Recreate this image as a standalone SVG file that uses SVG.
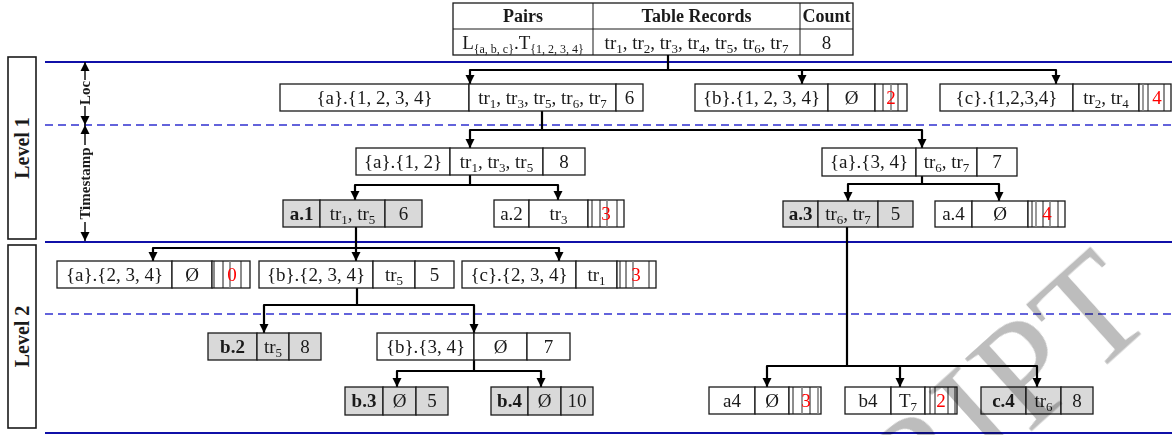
<svg xmlns="http://www.w3.org/2000/svg" width="1172" height="435" viewBox="0 0 1172 435">
  <defs>
    <marker id="arr" viewBox="0 0 10 10" refX="10" refY="5" markerWidth="9" markerHeight="10" markerUnits="userSpaceOnUse" orient="auto">
      <path d="M0,0 L10,5 L0,10 z" fill="#000"/>
    </marker>
    <style>
      text { font-family: "Liberation Serif", "Times New Roman", serif; fill: #1a1a1a; }
      .t { font-size: 19px; text-anchor: middle; }
      .h { font-size: 18px; font-weight: bold; text-anchor: middle; }
      .b { font-weight: bold; }
      .sb { font-size: 13px; }
      .sl { font-size: 12px; }
      .red { fill: #ff0000; }
      .cell { fill: #ffffff; stroke: #1a1a1a; stroke-width: 1.3; }
      .gcell { fill: #d9d9d9; stroke: #1a1a1a; stroke-width: 1.3; }
      .bl { stroke: #1a1a1a; stroke-width: 1; }
      .bg { stroke: #808080; stroke-width: 1.6; }
      .solid { stroke: #1010a8; stroke-width: 2.2; }
      .dash { stroke: #3030d0; stroke-width: 1.3; stroke-dasharray: 8 5; }
      .conn path { fill: none; stroke: #000; stroke-width: 2.2; stroke-linejoin: round; }
      .lvl { fill: #ffffff; stroke: #1a1a1a; stroke-width: 1.6; }
      .lt { font-size: 20px; font-weight: bold; text-anchor: middle; }
      .at { font-size: 15px; font-weight: bold; text-anchor: middle; }
      .dim { stroke: #000; stroke-width: 1.4; fill: none; }
    </style>
  </defs>

  <!-- band separators -->
  <g id="bands">
    <line class="solid" x1="45" y1="62" x2="1172" y2="62"/>
    <line class="dash" x1="45" y1="125" x2="1172" y2="125"/>
    <line class="solid" x1="45" y1="242" x2="1172" y2="242"/>
    <line class="dash" x1="45" y1="314" x2="1172" y2="314"/>
    <line class="solid" x1="45" y1="433" x2="1172" y2="433"/>
  </g>

  <!-- level labels -->
  <g id="level1">
    <rect class="lvl" x="8" y="57" width="28" height="182"/>
    <text class="lt" transform="translate(29,148) rotate(-90)">Level 1</text>
  </g>
  <g id="level2">
    <rect class="lvl" x="8" y="245" width="28" height="183"/>
    <text class="lt" transform="translate(29,336.5) rotate(-90)">Level 2</text>
  </g>

  <!-- Loc / Timestamp extents -->
  <g id="extents">
    <line class="dim" x1="85" y1="80" x2="85" y2="62" marker-end="url(#arr)"/>
    <line class="dim" x1="85" y1="106" x2="85" y2="125" marker-end="url(#arr)"/>
    <text class="at" transform="translate(90,93) rotate(-90)">Loc</text>
    <line class="dim" x1="85" y1="145" x2="85" y2="125" marker-end="url(#arr)"/>
    <line class="dim" x1="85" y1="222" x2="85" y2="241" marker-end="url(#arr)"/>
    <text class="at" transform="translate(90,183.5) rotate(-90)">Timestamp</text>
  </g>

  <!-- root table -->
  <g id="root">
    <rect class="cell" x="453" y="3" width="400" height="52"/>
    <line class="bl" x1="453" y1="29" x2="853" y2="29"/>
    <line class="bl" x1="593" y1="3" x2="593" y2="55"/>
    <line class="bl" x1="800" y1="3" x2="800" y2="55"/>
    <text class="h" x="523" y="22">Pairs</text>
    <text class="h" x="696.5" y="22">Table Records</text>
    <text class="h" x="826.5" y="22">Count</text>
    <text class="t" x="523" y="49">L<tspan class="sl" dy="4">{a, b, c}</tspan><tspan dy="-4">.T</tspan><tspan class="sl" dy="4">{1, 2, 3, 4}</tspan></text>
    <text class="t" x="696.5" y="49">tr<tspan class="sb" dy="4">1</tspan><tspan dy="-4">, tr</tspan><tspan class="sb" dy="4">2</tspan><tspan dy="-4">, tr</tspan><tspan class="sb" dy="4">3</tspan><tspan dy="-4">, tr</tspan><tspan class="sb" dy="4">4</tspan><tspan dy="-4">, tr</tspan><tspan class="sb" dy="4">5</tspan><tspan dy="-4">, tr</tspan><tspan class="sb" dy="4">6</tspan><tspan dy="-4">, tr</tspan><tspan class="sb" dy="4">7</tspan></text>
    <text class="t" x="826.5" y="49">8</text>
  </g>

  <!-- connectors -->
  <g id="connectors" class="conn">
    <path d="M668,55 V70"/>
    <path d="M668,70 H470 V84" marker-end="url(#arr)"/>
    <path d="M668,70 H802 V84" marker-end="url(#arr)"/>
    <path d="M802,70 H1056 V84" marker-end="url(#arr)"/>

    <path d="M542,111 V130"/>
    <path d="M542,130 H470 V148" marker-end="url(#arr)"/>
    <path d="M542,130 H922 V148" marker-end="url(#arr)"/>

    <path d="M470,175 V185"/>
    <path d="M470,185 H355 V200" marker-end="url(#arr)"/>
    <path d="M470,185 H558 V200" marker-end="url(#arr)"/>

    <path d="M922,176 V184"/>
    <path d="M922,184 H848 V201" marker-end="url(#arr)"/>
    <path d="M922,184 H999 V201" marker-end="url(#arr)"/>

    <path d="M356,227 V248"/>
    <path d="M356,248 H153 V261" marker-end="url(#arr)"/>
    <path d="M356,248 V261" marker-end="url(#arr)"/>
    <path d="M356,248 H559 V261" marker-end="url(#arr)"/>

    <path d="M357,288 V305"/>
    <path d="M357,305 H264 V333" marker-end="url(#arr)"/>
    <path d="M357,305 H474 V333" marker-end="url(#arr)"/>

    <path d="M474,360 V371"/>
    <path d="M474,371 H397 V387" marker-end="url(#arr)"/>
    <path d="M474,371 H541 V387" marker-end="url(#arr)"/>

    <path d="M847,227 V366"/>
    <path d="M847,366 H767 V387" marker-end="url(#arr)"/>
    <path d="M847,366 H900 V387" marker-end="url(#arr)"/>
    <path d="M900,366 H1037 V387" marker-end="url(#arr)"/>
  </g>

  <!-- Level 1, location row -->
  <g id="a_1234">
    <rect class="cell" x="280" y="84" width="189" height="27"/>
    <rect class="cell" x="469" y="84" width="147" height="27"/>
    <rect class="cell" x="616" y="84" width="27" height="27"/>
    <text class="t" x="374.5" y="104">{a}.{1, 2, 3, 4}</text>
    <text class="t" x="542.5" y="104">tr<tspan class="sb" dy="4">1</tspan><tspan dy="-4">, tr</tspan><tspan class="sb" dy="4">3</tspan><tspan dy="-4">, tr</tspan><tspan class="sb" dy="4">5</tspan><tspan dy="-4">, tr</tspan><tspan class="sb" dy="4">6</tspan><tspan dy="-4">, tr</tspan><tspan class="sb" dy="4">7</tspan></text>
    <text class="t" x="629.5" y="104">6</text>
  </g>
  <g id="b_1234">
    <rect class="cell" x="695" y="84" width="133" height="27"/>
    <rect class="cell" x="828" y="84" width="47" height="27"/>
    <rect class="cell" x="875" y="84" width="32" height="27"/>
    <line class="bl" x1="883" y1="84" x2="883" y2="111"/>
    <line class="bg" x1="891" y1="84" x2="891" y2="111"/>
    <line class="bl" x1="898" y1="84" x2="898" y2="111"/>
    <text class="t" x="761.5" y="104">{b}.{1, 2, 3, 4}</text>
    <text class="t" x="851.5" y="104">Ø</text>
    <text class="t red" x="891" y="104">2</text>
  </g>
  <g id="c_1234">
    <rect class="cell" x="940" y="84" width="133" height="27"/>
    <rect class="cell" x="1073" y="84" width="66" height="27"/>
    <rect class="cell" x="1139" y="84" width="32" height="27"/>
    <line class="bg" x1="1143" y1="84" x2="1143" y2="111"/>
    <line class="bl" x1="1148" y1="84" x2="1148" y2="111"/>
    <line class="bl" x1="1164" y1="84" x2="1164" y2="111"/>
    <text class="t" x="1006.5" y="104">{c}.{1,2,3,4}</text>
    <text class="t" x="1106" y="104">tr<tspan class="sb" dy="4">2</tspan><tspan dy="-4">, tr</tspan><tspan class="sb" dy="4">4</tspan></text>
    <text class="t red" x="1157" y="104">4</text>
  </g>

  <!-- Level 1, timestamp rows -->
  <g id="a_12">
    <rect class="cell" x="356" y="148" width="94" height="27"/>
    <rect class="cell" x="450" y="148" width="93" height="27"/>
    <rect class="cell" x="543" y="148" width="42" height="27"/>
    <text class="t" x="403" y="168">{a}.{1, 2}</text>
    <text class="t" x="496.5" y="168">tr<tspan class="sb" dy="4">1</tspan><tspan dy="-4">, tr</tspan><tspan class="sb" dy="4">3</tspan><tspan dy="-4">, tr</tspan><tspan class="sb" dy="4">5</tspan></text>
    <text class="t" x="564" y="168">8</text>
  </g>
  <g id="a_34">
    <rect class="cell" x="822" y="148" width="94" height="28"/>
    <rect class="cell" x="916" y="148" width="61" height="28"/>
    <rect class="cell" x="977" y="148" width="40" height="28"/>
    <text class="t" x="869" y="168">{a}.{3, 4}</text>
    <text class="t" x="946.5" y="168">tr<tspan class="sb" dy="4">6</tspan><tspan dy="-4">, tr</tspan><tspan class="sb" dy="4">7</tspan></text>
    <text class="t" x="997" y="168">7</text>
  </g>
  <g id="a1">
    <rect class="gcell" x="283" y="200" width="37" height="27"/>
    <rect class="gcell" x="320" y="200" width="65" height="27"/>
    <rect class="gcell" x="385" y="200" width="37" height="27"/>
    <text class="t b" x="301.5" y="220">a.1</text>
    <text class="t" x="352.5" y="220">tr<tspan class="sb" dy="4">1</tspan><tspan dy="-4">, tr</tspan><tspan class="sb" dy="4">5</tspan></text>
    <text class="t" x="403.5" y="220">6</text>
  </g>
  <g id="a2">
    <rect class="cell" x="494" y="200" width="35" height="27"/>
    <rect class="cell" x="529" y="200" width="59" height="27"/>
    <rect class="cell" x="588" y="200" width="36" height="27"/>
    <line class="bl" x1="592" y1="200" x2="592" y2="227"/>
    <line class="bl" x1="600" y1="200" x2="600" y2="227"/>
    <line class="bg" x1="607" y1="200" x2="607" y2="227"/>
    <line class="bl" x1="617" y1="200" x2="617" y2="227"/>
    <text class="t" x="511.5" y="220">a.2</text>
    <text class="t" x="558.5" y="220">tr<tspan class="sb" dy="4">3</tspan></text>
    <text class="t red" x="606" y="220">3</text>
  </g>
  <g id="a3">
    <rect class="gcell" x="783" y="201" width="35" height="26"/>
    <rect class="gcell" x="818" y="201" width="60" height="26"/>
    <rect class="gcell" x="878" y="201" width="35" height="26"/>
    <text class="t b" x="800.5" y="220">a.3</text>
    <text class="t" x="848" y="220">tr<tspan class="sb" dy="4">6</tspan><tspan dy="-4">, tr</tspan><tspan class="sb" dy="4">7</tspan></text>
    <text class="t" x="895.5" y="220">5</text>
  </g>
  <g id="a4_l1">
    <rect class="cell" x="935" y="201" width="37" height="26"/>
    <rect class="cell" x="972" y="201" width="56" height="26"/>
    <rect class="cell" x="1028" y="201" width="37" height="26"/>
    <line class="bl" x1="1032" y1="201" x2="1032" y2="227"/>
    <line class="bg" x1="1036" y1="201" x2="1036" y2="227"/>
    <line class="bl" x1="1043" y1="201" x2="1043" y2="227"/>
    <line class="bg" x1="1050" y1="201" x2="1050" y2="227"/>
    <line class="bl" x1="1058" y1="201" x2="1058" y2="227"/>
    <text class="t" x="953.5" y="220">a.4</text>
    <text class="t" x="1000" y="220">Ø</text>
    <text class="t red" x="1047" y="220">4</text>
  </g>

  <!-- Level 2, location row -->
  <g id="a_234">
    <rect class="cell" x="57" y="261" width="115" height="27"/>
    <rect class="cell" x="172" y="261" width="40" height="27"/>
    <rect class="cell" x="212" y="261" width="38" height="27"/>
    <line class="bl" x1="214" y1="261" x2="214" y2="288"/>
    <line class="bl" x1="223" y1="261" x2="223" y2="288"/>
    <line class="bg" x1="230" y1="261" x2="230" y2="288"/>
    <line class="bl" x1="241" y1="261" x2="241" y2="288"/>
    <text class="t" x="114.5" y="281">{a}.{2, 3, 4}</text>
    <text class="t" x="192" y="281">Ø</text>
    <text class="t red" x="232" y="281">0</text>
  </g>
  <g id="b_234">
    <rect class="cell" x="259" y="261" width="114" height="27"/>
    <rect class="cell" x="373" y="261" width="42" height="27"/>
    <rect class="cell" x="415" y="261" width="39" height="27"/>
    <text class="t" x="316" y="281">{b}.{2, 3, 4}</text>
    <text class="t" x="394" y="281">tr<tspan class="sb" dy="4">5</tspan></text>
    <text class="t" x="434.5" y="281">5</text>
  </g>
  <g id="c_234">
    <rect class="cell" x="462" y="261" width="114" height="27"/>
    <rect class="cell" x="576" y="261" width="41" height="27"/>
    <rect class="cell" x="617" y="261" width="39" height="27"/>
    <line class="bl" x1="620" y1="261" x2="620" y2="288"/>
    <line class="bl" x1="626" y1="261" x2="626" y2="288"/>
    <line class="bg" x1="633" y1="261" x2="633" y2="288"/>
    <line class="bl" x1="649" y1="261" x2="649" y2="288"/>
    <text class="t" x="519" y="281">{c}.{2, 3, 4}</text>
    <text class="t" x="596.5" y="281">tr<tspan class="sb" dy="4">1</tspan></text>
    <text class="t red" x="636" y="281">3</text>
  </g>

  <!-- Level 2, timestamp rows -->
  <g id="b2">
    <rect class="gcell" x="208" y="333" width="49" height="27"/>
    <rect class="gcell" x="257" y="333" width="32" height="27"/>
    <rect class="gcell" x="289" y="333" width="32" height="27"/>
    <text class="t b" x="232.5" y="353">b.2</text>
    <text class="t" x="273" y="353">tr<tspan class="sb" dy="4">5</tspan></text>
    <text class="t" x="305" y="353">8</text>
  </g>
  <g id="b_34">
    <rect class="cell" x="377" y="333" width="97" height="27"/>
    <rect class="cell" x="474" y="333" width="53" height="27"/>
    <rect class="cell" x="527" y="333" width="43" height="27"/>
    <text class="t" x="425.5" y="353">{b}.{3, 4}</text>
    <text class="t" x="500.5" y="353">Ø</text>
    <text class="t" x="548.5" y="353">7</text>
  </g>
  <g id="b3">
    <rect class="gcell" x="345" y="387" width="38" height="28"/>
    <rect class="gcell" x="383" y="387" width="33" height="28"/>
    <rect class="gcell" x="416" y="387" width="32" height="28"/>
    <text class="t b" x="364" y="407">b.3</text>
    <text class="t" x="399.5" y="407">Ø</text>
    <text class="t" x="432" y="407">5</text>
  </g>
  <g id="b4_l2">
    <rect class="gcell" x="491" y="387" width="37" height="28"/>
    <rect class="gcell" x="528" y="387" width="33" height="28"/>
    <rect class="gcell" x="561" y="387" width="32" height="28"/>
    <text class="t b" x="509.5" y="407">b.4</text>
    <text class="t" x="544.5" y="407">Ø</text>
    <text class="t" x="577" y="407">10</text>
  </g>
  <g id="a4">
    <rect class="cell" x="709" y="387" width="46" height="27"/>
    <rect class="cell" x="755" y="387" width="34" height="27"/>
    <rect class="cell" x="789" y="387" width="32" height="27"/>
    <line class="bl" x1="793" y1="387" x2="793" y2="414"/>
    <line class="bg" x1="802" y1="387" x2="802" y2="414"/>
    <line class="bl" x1="810" y1="387" x2="810" y2="414"/>
    <line class="bg" x1="818" y1="387" x2="818" y2="414"/>
    <text class="t" x="732" y="407">a4</text>
    <text class="t" x="772" y="407">Ø</text>
    <text class="t red" x="806" y="407">3</text>
  </g>
  <g id="b4">
    <rect class="cell" x="845" y="387" width="46" height="27"/>
    <rect class="cell" x="891" y="387" width="34" height="27"/>
    <rect class="cell" x="925" y="387" width="32" height="27"/>
    <line class="bl" x1="930" y1="387" x2="930" y2="414"/>
    <line class="bl" x1="935" y1="387" x2="935" y2="414"/>
    <line class="bl" x1="948" y1="387" x2="948" y2="414"/>
    <line class="bl" x1="955" y1="387" x2="955" y2="414"/>
    <text class="t" x="868" y="407">b4</text>
    <text class="t" x="908" y="407">T<tspan class="sb" dy="4">7</tspan></text>
    <text class="t red" x="941" y="407">2</text>
  </g>
  <g id="c4">
    <rect class="gcell" x="981" y="387" width="45" height="27"/>
    <rect class="gcell" x="1026" y="387" width="35" height="27"/>
    <rect class="gcell" x="1061" y="387" width="32" height="27"/>
    <text class="t b" x="1003.5" y="407">c.4</text>
    <text class="t" x="1043.5" y="407">tr<tspan class="sb" dy="4">6</tspan></text>
    <text class="t" x="1077" y="407">8</text>
  </g>

  <!-- faint diagonal watermark lettering -->
  <text transform="translate(1158,318) rotate(-42)" style="font-family:'Liberation Serif',serif;font-size:150px;fill:#bdbdbd;text-anchor:end;mix-blend-mode:multiply">SCRIPT</text>
</svg>
